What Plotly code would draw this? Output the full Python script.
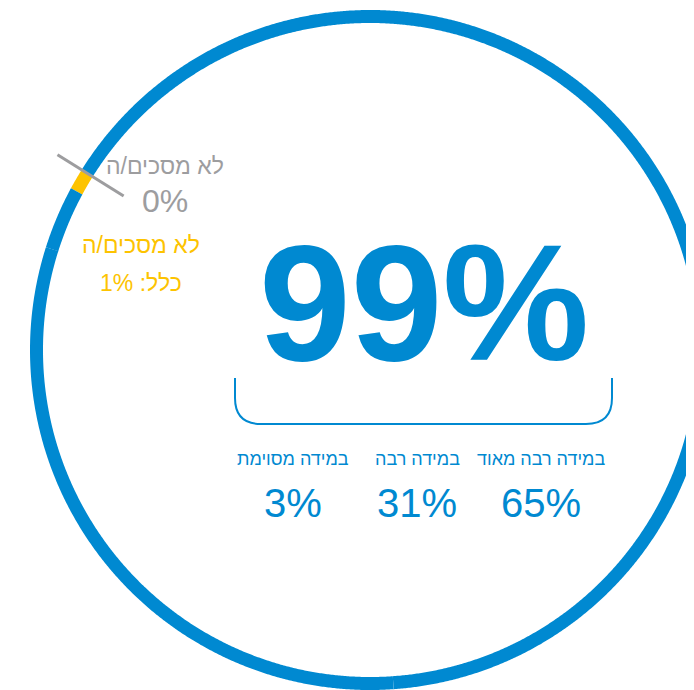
import numpy as np
import plotly.graph_objects as go

# ---- data ----
categories = ["במידה רבה מאוד", "במידה רבה", "במידה מסוימת", "לא מסכים/ה", "לא מסכים/ה כלל"]
shares = [65, 31, 3, 0, 1]
agree_total = 99

# ---- style ----
BLUE = "#0089D1"
YELLOW = "#FDC300"
GRAY = "#9D9D9F"
FONT = "Liberation Sans Narrow, Liberation Sans, Arial, sans-serif"
PAGE_MARGIN = 8          # default body margin of the html page
W, H = 694, 690          # browser window
cx, cy, R = 370, 350, 333.5
RING_W = 13
marker_deg = 148.0  # position of the 0% marker on the ring

fig = go.Figure()

# ring: go counter-clockwise from the marker: yellow, then the blue segments
ring_order = [4, 2, 1, 0, 3]
colors = {0: BLUE, 1: BLUE, 2: BLUE, 3: GRAY, 4: YELLOW}
total = sum(shares)
ang = marker_deg
for idx in ring_order:
    span = shares[idx] / total * 360.0
    if span > 0:
        th = np.radians(np.linspace(ang, ang + span, max(int(span * 4), 8)))
        fig.add_trace(go.Scatter(
            x=cx + R * np.cos(th), y=cy - R * np.sin(th), mode="lines",
            line=dict(color=colors[idx], width=RING_W, simplify=False),
            hoverinfo="skip", showlegend=False))
    else:
        th = np.radians(ang)
        rr = np.array([R - 43, R + 35])
        fig.add_trace(go.Scatter(
            x=cx + rr * np.cos(th), y=cy - rr * np.sin(th), mode="lines",
            line=dict(color=colors[idx], width=3), hoverinfo="skip",
            showlegend=False))
    ang += span

# big total
fig.add_annotation(x=424, y=303, text=f"<b>{agree_total}%</b>", showarrow=False,
                   font=dict(family=FONT, size=165, color=BLUE),
                   xanchor="center", yanchor="middle")

# brace under the total
fig.add_shape(type="path", xref="x", yref="y",
              path="M 235,378 L 235,398 Q 235,424 261,424 L 586,424 Q 612,424 612,398 L 612,378",
              line=dict(color=BLUE, width=2))

# agree breakdown
col_x = [541, 417, 293]
for i in range(3):
    fig.add_annotation(x=col_x[i], y=459, text=categories[i], showarrow=False,
                       font=dict(family=FONT, size=18, color=BLUE),
                       xanchor="center", yanchor="middle")
    fig.add_annotation(x=col_x[i], y=503, text=f"{shares[i]}%", showarrow=False,
                       font=dict(family=FONT, size=40, color=BLUE),
                       xanchor="center", yanchor="middle")

# disagree labels
fig.add_annotation(x=165, y=166, text=categories[3], showarrow=False,
                   font=dict(family=FONT, size=23, color=GRAY),
                   xanchor="center", yanchor="middle")
fig.add_annotation(x=165, y=201, text=f"{shares[3]}%", showarrow=False,
                   font=dict(family=FONT, size=32, color=GRAY),
                   xanchor="center", yanchor="middle")
fig.add_annotation(x=141, y=245, text="לא מסכים/ה", showarrow=False,
                   font=dict(family=FONT, size=23, color=YELLOW),
                   xanchor="center", yanchor="middle")
fig.add_annotation(x=141, y=283, text="\u202Bכלל: " + f"{shares[4]}%" + "\u202C", showarrow=False,
                   font=dict(family=FONT, size=23, color=YELLOW),
                   xanchor="center", yanchor="middle")

fig.update_xaxes(range=[PAGE_MARGIN, W], visible=False, fixedrange=True)
fig.update_yaxes(range=[H, PAGE_MARGIN], visible=False, fixedrange=True)
fig.update_layout(width=W - PAGE_MARGIN, height=H - PAGE_MARGIN,
                  margin=dict(l=0, r=0, t=0, b=0),
                  paper_bgcolor="white", plot_bgcolor="white", showlegend=False)

fig.write_html("out.html")
